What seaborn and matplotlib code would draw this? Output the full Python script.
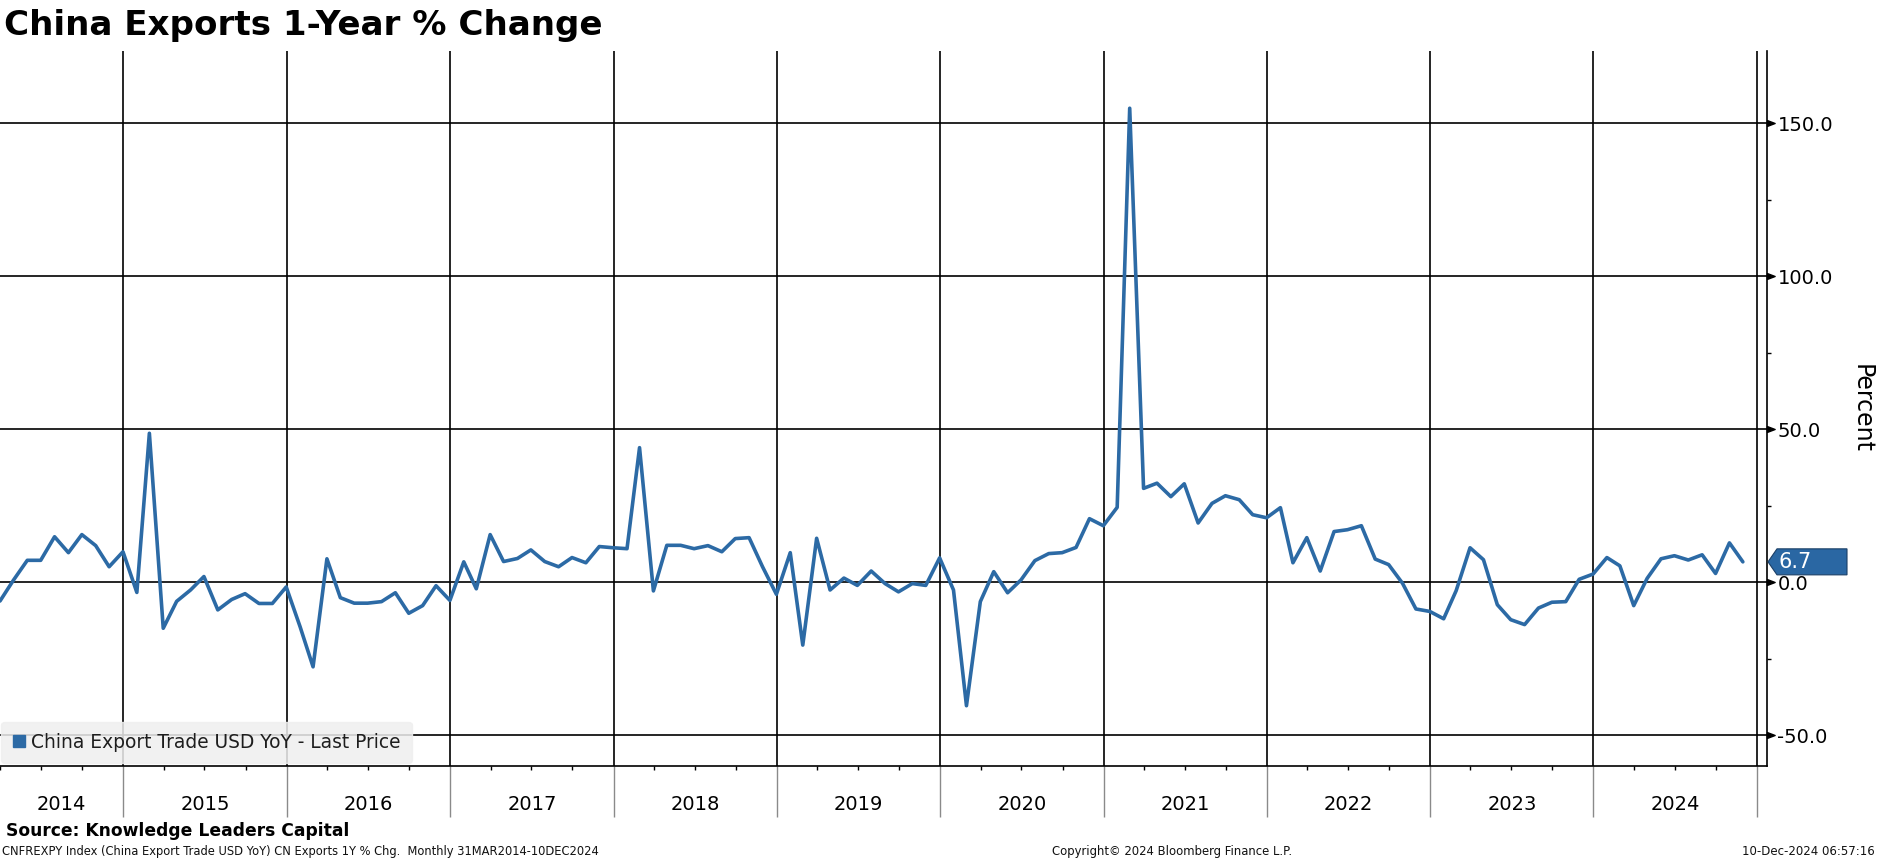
import numpy as np
import pandas as pd
import matplotlib
matplotlib.use("Agg")
import matplotlib.pyplot as plt
import matplotlib.dates as mdates
import matplotlib.ticker as mticker
from matplotlib.lines import Line2D
from matplotlib.patches import Polygon
from matplotlib.path import Path
from matplotlib.transforms import blended_transform_factory
import seaborn as sns

# ---------------- data ----------------
title = "China Exports 1-Year % Change"
series_name = "China Export Trade USD YoY - Last Price"
start_month = "2014-03"
values_2014 = [-6.1, 0.7, 7.2, 7.2, 14.9, 9.7, 15.6, 12.0, 5.1, 10.0]
values_2015 = [-3.3, 48.7, -15.0, -6.2, -2.5, 1.9, -9.0, -5.6, -3.7, -6.9, -6.9, -1.5]
values_2016 = [-14.5, -27.6, 7.7, -5.0, -6.8, -6.8, -6.3, -3.4, -10.1, -7.6, -1.1, -5.9]
values_2017 = [6.7, -2.1, 15.6, 6.8, 7.8, 10.6, 6.8, 5.1, 8.1, 6.4, 11.7, 11.3]
values_2018 = [11.0, 44.0, -2.8, 12.1, 12.1, 11.0, 12.0, 10.0, 14.3, 14.6, 5.1, -3.9]
values_2019 = [9.7, -20.5, 14.4, -2.5, 1.4, -1.0, 3.7, -0.4, -3.1, -0.4, -1.0, 8.0]
values_2020 = [-2.5, -40.3, -6.3, 3.5, -3.4, 0.8, 7.1, 9.4, 9.7, 11.4, 20.8, 18.5]
values_2021 = [24.5, 154.9, 30.7, 32.4, 28.0, 32.2, 19.4, 25.8, 28.3, 27.0, 22.1, 21.1]
values_2022 = [24.4, 6.4, 14.6, 3.7, 16.6, 17.2, 18.5, 7.6, 5.8, -0.3, -8.7, -9.5]
values_2023 = [-11.9, -2.7, 11.3, 7.4, -7.3, -12.2, -13.8, -8.4, -6.5, -6.3, 1.0, 2.7]
values_2024 = [8.1, 5.4, -7.6, 1.3, 7.7, 8.7, 7.3, 9.0, 2.9, 12.9, 6.7]
year_labels = list(range(2014, 2025))
y_ticks = [-50, 0, 50, 100, 150]
source_text = "Source: Knowledge Leaders Capital"
footer_text = "CNFREXPY Index (China Export Trade USD YoY) CN Exports 1Y % Chg.  Monthly 31MAR2014-10DEC2024"
copyright_text = "Copyright\u00a9 2024 Bloomberg Finance L.P."
stamp_text = "10-Dec-2024 06:57:16"

values = (values_2014 + values_2015 + values_2016 + values_2017 + values_2018 + values_2019
          + values_2020 + values_2021 + values_2022 + values_2023 + values_2024)
dates = pd.period_range(start_month, periods=len(values), freq="M").to_timestamp(how="end").normalize()
df = pd.DataFrame({"date": dates, "value": values})

# ---------------- style ----------------
sns.set_theme(style="white")
plt.rcParams["font.family"] = ["DejaVu Sans"]
line_color = "#2c6aa5"
W, H = 1877, 859
fig = plt.figure(figsize=(W / 100, H / 100), dpi=100)
ax_left, ax_right, ax_top, ax_bottom = 0, 1767, 51, 766
ax = fig.add_axes([ax_left / W, (H - ax_bottom) / H, (ax_right - ax_left) / W, (ax_bottom - ax_top) / H])
ax.set_facecolor("white")

sns.lineplot(data=df, x="date", y="value", ax=ax, color=line_color, linewidth=2.6, legend=False, zorder=3)

ax.set_xlim(pd.Timestamp("2014-03-31"), pd.Timestamp("2025-01-23"))
ax.set_ylim(-60, 173.6)
ax.set_xlabel("")

# spines
for s in ["left", "top"]:
    ax.spines[s].set_visible(False)
for s in ["right", "bottom"]:
    ax.spines[s].set_visible(True)
    ax.spines[s].set_color("black")
    ax.spines[s].set_linewidth(1.2)

# x axis: year gridlines + band separators, quarterly minor ticks
ax.xaxis.set_major_locator(mdates.YearLocator())
ax.xaxis.set_major_formatter(mticker.NullFormatter())
ax.xaxis.set_minor_locator(mdates.MonthLocator(bymonth=[1, 4, 7, 10]))
ax.tick_params(axis="x", which="major", direction="out", length=36.5, width=1.0,
               color="#8a8a8a", bottom=True)
ax.tick_params(axis="x", which="minor", direction="out", length=2.6, width=1.0,
               color="black", bottom=True)

# y axis on the right
ax.yaxis.tick_right()
ax.yaxis.set_label_position("right")
ax.yaxis.set_major_locator(mticker.FixedLocator(y_ticks))
ax.yaxis.set_major_formatter(mticker.FuncFormatter(lambda v, p: f"{v:.1f}"))
ax.yaxis.set_minor_locator(mticker.MultipleLocator(25))
ax.tick_params(axis="y", which="major", length=0, pad=7.5, labelsize=14, labelcolor="black",
               right=True, left=False)
ax.tick_params(axis="y", which="minor", direction="out", length=2.6, width=1.0, color="black",
               right=True, left=False)

ax.grid(True, which="major", axis="both", color="black", linewidth=1.2)
ax.set_axisbelow(True)

# triangle tick markers
tri = Path([(0, -0.38), (1, 0), (0, 0.38), (0, -0.38)],
           [Path.MOVETO, Path.LINETO, Path.LINETO, Path.CLOSEPOLY])
btr = blended_transform_factory(ax.transAxes, ax.transData)
ax.plot([1.0] * len(y_ticks), y_ticks, transform=btr, ls="none", marker=tri, markersize=11,
        color="black", clip_on=False, zorder=5)

ax.set_ylabel("Percent", rotation=-90, fontsize=17, color="black", va="center", ha="center")
ax.yaxis.set_label_coords((1862 - ax_left) / (ax_right - ax_left), 0.5)

# year labels centred in each year band
btx = blended_transform_factory(ax.transData, ax.transAxes)
x0, x1 = ax.get_xlim()
for yr in year_labels:
    a = max(mdates.date2num(pd.Timestamp(f"{yr}-01-01")), x0)
    b = mdates.date2num(pd.Timestamp(f"{yr + 1}-01-01"))
    ax.text((a + b) / 2, -(805 - ax_bottom) / (ax_bottom - ax_top), str(yr), transform=btx,
            ha="center", va="center", fontsize=14, color="black")

fig.canvas.draw()
renderer = fig.canvas.get_renderer()


def fit(t, target):
    w = t.get_window_extent(renderer=renderer).width
    t.set_fontsize(t.get_fontsize() * target / w)


# legend
tmp = fig.text(0, 0, series_name, fontsize=14)
fit(tmp, 371)
leg_fs = tmp.get_fontsize()
tmp.remove()
handle = Line2D([], [], marker="s", ls="none", color=line_color, markersize=9)
leg = ax.legend(handles=[handle], labels=[series_name], loc="lower left",
                bbox_to_anchor=(0.0006, 0.004), borderaxespad=0, frameon=True,
                facecolor="#efefef", edgecolor="#efefef", framealpha=0.85, fancybox=True,
                fontsize=leg_fs, handlelength=0.7, handletextpad=0.3, borderpad=0.6,
                labelcolor="#1e1e1e")
leg.set_zorder(2)

# texts
t_title = fig.text(4 / W, 1 - 35 / H, title, fontsize=22, fontweight="bold", va="baseline", color="black")
fit(t_title, 596)
t_src = fig.text(6 / W, 1 - 836 / H, source_text, fontsize=12, fontweight="bold", va="baseline", color="black")
fit(t_src, 341)
t_foot = fig.text(2 / W, 1 - 855 / H, footer_text, fontsize=9, va="baseline", color="#111111")
fit(t_foot, 600)
t_copy = fig.text(1052 / W, 1 - 855 / H, copyright_text, fontsize=9, va="baseline", color="#111111")
fit(t_copy, 240)
t_stamp = fig.text(1875 / W, 1 - 855 / H, stamp_text, fontsize=9, va="baseline", ha="right", color="#111111")
fit(t_stamp, 132)

# last value tag
last_val = values[-1]
spine_x = ax.transAxes.transform((1, 0))[0]
yd = ax.transData.transform((x0, last_val))[1]
hh = 13
verts_px = [(spine_x + 1, yd), (spine_x + 10, yd + hh), (spine_x + 80, yd + hh),
            (spine_x + 80, yd - hh), (spine_x + 10, yd - hh)]
verts_fig = fig.transFigure.inverted().transform(verts_px)
fig.add_artist(Polygon(verts_fig, closed=True, transform=fig.transFigure, facecolor="#2a67a3",
                       edgecolor="#1b3f66", linewidth=0.8, zorder=6))
fig.text((spine_x + 12) / W, yd / H, f"{last_val:.1f}", color="white", fontsize=15,
         ha="left", va="center", zorder=7)

fig.savefig("out.png", dpi=100, facecolor="white")
